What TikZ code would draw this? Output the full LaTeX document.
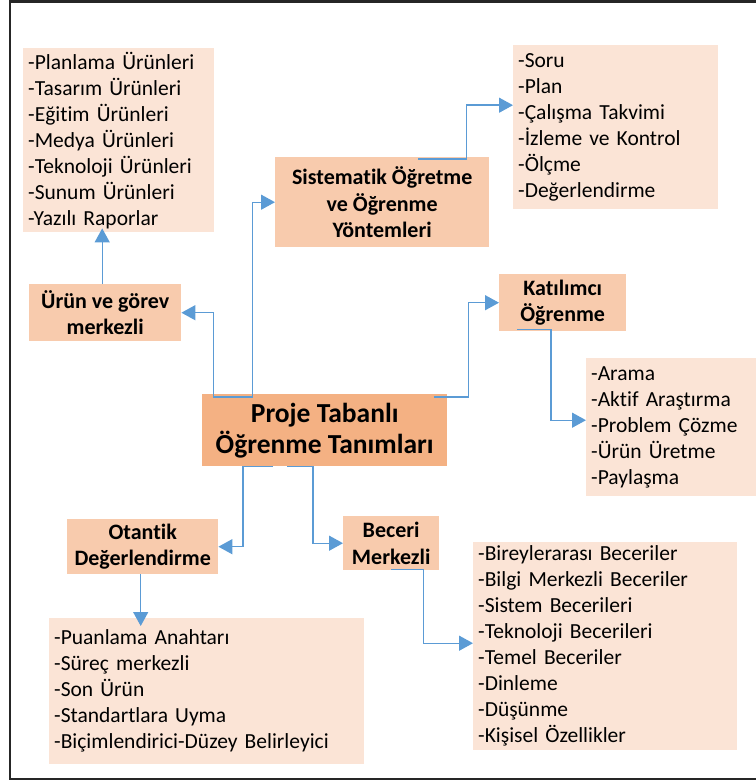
\documentclass[tikz,border=0pt]{standalone}
\usepackage{fontspec}
\setmainfont{Carlito}[Ligatures=NoCommon]
\usetikzlibrary{arrows.meta}
\definecolor{listfill}{HTML}{FBE4D6}
\definecolor{headfill}{HTML}{F8CBAD}
\definecolor{hubfill}{HTML}{F4B183}
\definecolor{connblue}{HTML}{5B9BD5}
\tikzset{
    list/.style={rectangle, fill=listfill, anchor=north west, align=left,
    	inner xsep=5pt, inner ysep=0pt, font=\fontsize{21.5}{26}\selectfont}
}
\tikzset{
    head/.style={rectangle, fill=headfill, anchor=north west, align=center,
    	inner sep=0pt, font=\bfseries\fontsize{22}{26.5}\selectfont},
    hub/.style={head, fill=hubfill, font=\bfseries\fontsize{27.5}{31}\selectfont}
}
\tikzset{
    conn/.style={draw=connblue, line width=1.4pt,
    	-{Triangle[length=14pt,width=15pt]}}
}

\begin{document}
\begin{tikzpicture}[x=1pt, y=-1pt]
	\useasboundingbox (0, 0) rectangle (755, 781);
	\draw[line width=2.2pt, black!85] (10, 1.5) rectangle (775, 779);

	\node (ptl) [hub, minimum width=245, minimum height=72] at (202, 394) {Proje Tabanlı\\Öğrenme Tanımları};
	\node (urun) [head, minimum width=152, minimum height=57] at (29, 284) {Ürün ve görev\\merkezli};
	\node (sis) [head, minimum width=214, minimum height=90] at (275, 157) {Sistematik Öğretme\\ve Öğrenme\\Yöntemleri};
	\node (kat) [head, minimum width=127, minimum height=57] at (499, 274) {Katılımcı\\Öğrenme};
	\node (ota) [head, minimum width=151, minimum height=55] at (67, 519) {Otantik\\Değerlendirme};
	\node (bec) [head, minimum width=96, minimum height=54] at (343, 516) {Beceri\\Merkezli};

	\node (urunlist) [list, text width=181, minimum height=184] at (23, 48) {-Planlama Ürünleri\\-Tasarım Ürünleri\\-Eğitim Ürünleri\\-Medya Ürünleri\\-Teknoloji Ürünleri\\-Sunum Ürünleri\\-Yazılı Raporlar};
	\node (sislist) [list, text width=195, minimum height=164] at (513, 45) {-Soru\\-Plan\\-Çalışma Takvimi\\-İzleme ve Kontrol\\-Ölçme\\-Değerlendirme};
	\node (katlist) [list, text width=160, minimum height=138] at (586, 358) {-Arama\\-Aktif Araştırma\\-Problem Çözme\\-Ürün Üretme\\-Paylaşma};
	\node (otalist) [list, text width=305, minimum height=146] at (49, 618) {-Puanlama Anahtarı\\-Süreç merkezli\\-Son Ürün\\-Standartlara Uyma\\-Biçimlendirici-Düzey Belirleyici};
	\node (beclist) [list, text width=254, minimum height=208] at (473, 542) {-Bireylerarası Beceriler\\-Bilgi Merkezli Beceriler\\-Sistem Becerileri\\-Teknoloji Becerileri\\-Temel Beceriler\\-Dinleme\\-Düşünme\\-Kişisel Özellikler};

	\draw[conn] ([shift={(-72pt,-3pt)}]ptl.north) -- ++(-39pt,0pt) |- (urun.east);
	\draw[conn] ([shift={(-72pt,-3pt)}]ptl.north) |- (sis.west);
	\draw[conn] ([shift={(-13pt,-3pt)}]ptl.north east) -- ++(34pt,0pt) |- (kat.west);
	\draw[conn] ([xshift=71pt]ptl.south west) -- ++(-30pt,0pt) |- (ota.east);
	\draw[conn] ([xshift=85pt]ptl.south west) -- ++(26pt,0pt) |- (bec.west);

	\draw[conn, shorten >=-4pt] ([xshift=-3pt]urun.north) -- ([xshift=-3pt]urun.north |- urunlist.south);
	\draw[conn] ([shift={(-71pt,-2pt)}]sis.north east) -- ++(48pt,0pt) |- ([yshift=22pt]sislist.west);
	\draw[conn] ([shift={(18pt,2pt)}]kat.south west) -- ++(34pt,0pt) |- ([yshift=7pt]katlist.west);
	\draw[conn, shorten >=-8pt] ([xshift=-2pt]ota.south) -- ([xshift=-2pt]ota.south |- otalist.north);
	\draw[conn] ([yshift=1pt]bec.south) -- ++(32pt,0pt) |- ([yshift=3pt]beclist.west);
\end{tikzpicture}
\end{document}
